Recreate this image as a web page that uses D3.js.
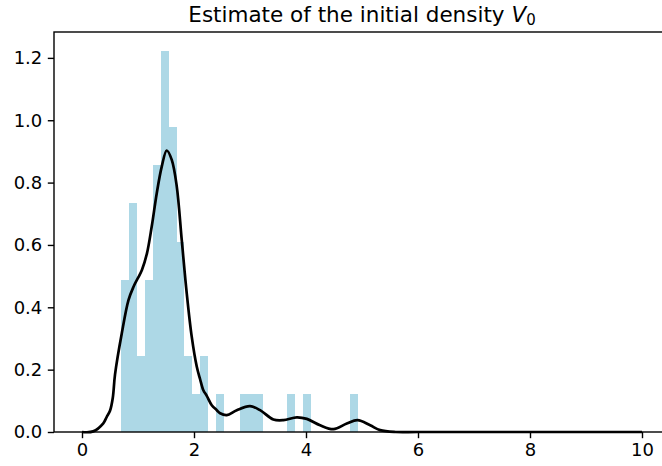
<!DOCTYPE html>
<html>
<head>
<meta charset="utf-8">
<script src="https://cdn.jsdelivr.net/npm/d3@7"></script>
<style>
  body { margin: 0; background: #fff; }
  svg { font-family: "DejaVu Sans", sans-serif; }
</style>
</head>
<body>
<div class="chart"></div>
<script>
/* DATA */
// histogram: 30 equal bins between binLo and binHi, sample counts per bin
const binLo = 0.697;
const binHi = 4.93;
const binCounts = [4, 6, 2, 4, 7, 10, 8, 5, 2, 1, 2, 0, 1, 0, 0, 1, 1, 1, 0, 0, 0, 1, 0, 1, 0, 0, 0, 0, 0, 1];

// density estimate curve (x, density)
const kdeX = [0, 0.2, 0.38, 0.44, 0.5, 0.55, 0.59, 0.71, 0.83, 0.92, 1.07, 1.16, 1.245, 1.335, 1.424,
  1.513, 1.603, 1.692, 1.781, 1.871, 1.96, 2.049, 2.108, 2.167, 2.228, 2.317, 2.407, 2.466, 2.585,
  2.764, 3.0, 3.18, 3.418, 3.597, 3.836, 4.015, 4.252, 4.49, 4.729, 4.92, 5.146, 5.324, 5.6, 6, 8, 10];
const kdeY = [0, 0.002, 0.028, 0.048, 0.068, 0.11, 0.185, 0.316, 0.423, 0.466, 0.52, 0.573, 0.659,
  0.766, 0.851, 0.903, 0.873, 0.788, 0.616, 0.444, 0.305, 0.21, 0.17, 0.134, 0.116, 0.086, 0.07,
  0.06, 0.054, 0.07, 0.083, 0.07, 0.04, 0.038, 0.047, 0.042, 0.0215, 0.009, 0.027, 0.038, 0.0215,
  0.006, 0, 0, 0, 0];

const xTicks = [0, 2, 4, 6, 8, 10];
const yTicks = [0, 0.2, 0.4, 0.6, 0.8, 1.0, 1.2];

const width = 662;
const height = 466;
const margin = { top: 32, right: -8, bottom: 34, left: 54 };

/* DERIVED */
const nSamples = d3.sum(binCounts);
const binW = (binHi - binLo) / binCounts.length;
const bars = binCounts.map((c, i) => ({
  x0: binLo + i * binW,
  x1: binLo + (i + 1) * binW,
  density: c / (nSamples * binW)
}));
const kde = kdeX.map((x, i) => ({ x: x, y: kdeY[i] }));

/* SCALES */
const xScale = d3.scaleLinear()
  .domain([-0.5, 10.5])
  .range([margin.left, width - margin.right]);

const yMax = 1.05 * d3.max(bars, d => d.density);
const yScale = d3.scaleLinear()
  .domain([0, yMax])
  .range([height - margin.bottom, margin.top]);

const svg = d3.select(".chart")
  .append("svg")
  .attr("width", width)
  .attr("height", height);

// histogram bars
svg.append("g")
  .attr("shape-rendering", "crispEdges")
  .selectAll("rect")
  .data(bars)
  .join("rect")
  .attr("x", d => xScale(d.x0))
  .attr("width", d => xScale(d.x1) - xScale(d.x0) + 0.2)
  .attr("y", d => yScale(d.density))
  .attr("height", d => yScale(0) - yScale(d.density))
  .attr("fill", "lightblue");

// density line
const line = d3.line()
  .x(d => xScale(d.x))
  .y(d => yScale(d.y))
  .curve(d3.curveCatmullRom.alpha(0.5));

svg.append("path")
  .datum(kde)
  .attr("fill", "none")
  .attr("stroke", "black")
  .attr("stroke-width", 2.7)
  .attr("stroke-linejoin", "round")
  .attr("d", line);

// AXES
const xAxis = d3.axisBottom(xScale)
  .tickValues(xTicks)
  .tickFormat(d3.format("d"))
  .tickSize(6.2)
  .tickPadding(5.5);

const yAxis = d3.axisLeft(yScale)
  .tickValues(yTicks)
  .tickFormat(d3.format(".1f"))
  .tickSize(6.2)
  .tickPadding(5.5);

const gx = svg.append("g")
  .attr("transform", `translate(0, ${height - margin.bottom})`)
  .call(xAxis);
const gy = svg.append("g")
  .attr("transform", `translate(${margin.left}, 0)`)
  .call(yAxis);

[gx, gy].forEach(g => {
  g.select(".domain").remove();
  g.selectAll(".tick line").attr("stroke", "black").attr("stroke-width", 1.4);
  g.selectAll(".tick text").attr("fill", "black").attr("font-size", 18)
    .attr("font-family", "DejaVu Sans");
});

// frame (spines)
svg.append("rect")
  .attr("x", margin.left)
  .attr("y", margin.top)
  .attr("width", xScale.range()[1] - margin.left)
  .attr("height", yScale(0) - margin.top)
  .attr("fill", "none")
  .attr("stroke", "black")
  .attr("stroke-width", 1.4);

// title
const title = svg.append("text")
  .attr("x", (margin.left + xScale.range()[1]) / 2)
  .attr("y", margin.top - 10.5)
  .attr("text-anchor", "middle")
  .attr("font-size", 21.5)
  .attr("fill", "black");
title.append("tspan").text("Estimate of the initial density ");
title.append("tspan").attr("font-style", "italic").text("V");
title.append("tspan").attr("font-size", 15).attr("dy", 3.5).text("0");
</script>
</body>
</html>
